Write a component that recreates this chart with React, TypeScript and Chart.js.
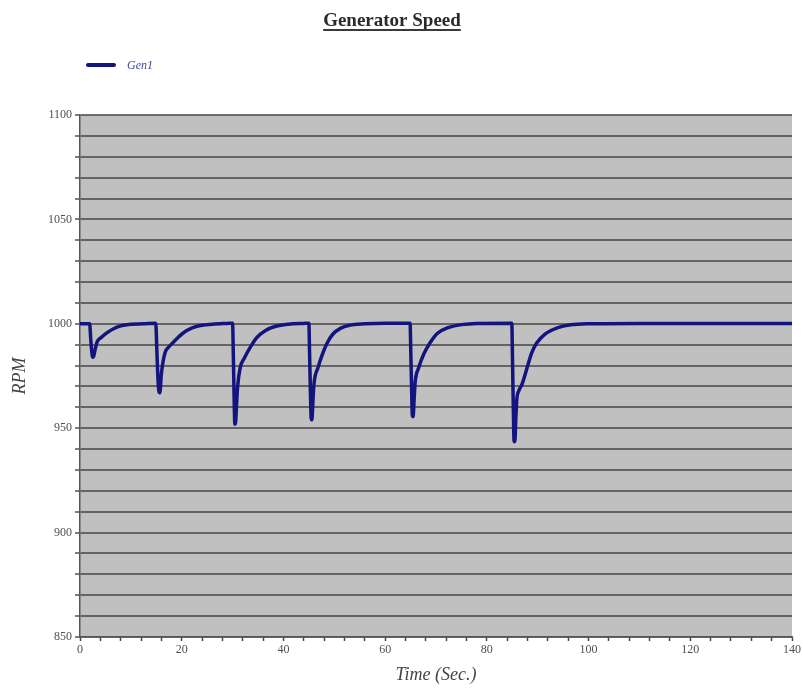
import React, { useEffect, useRef } from "react";
import { Chart, registerables } from "chart.js";

Chart.register(...registerables);

const TITLE = "Generator Speed";
const SERIES_NAME = "Gen1";
const X_TITLE = "Time (Sec.)";
const Y_TITLE = "RPM";

// Time (s) and generator speed (RPM)
const timeSec = [
  0, 1.9,
  2.1, 2.3, 2.5, 2.7, 3.0, 3.4, 4.2, 5.2, 6.5, 8.0, 10.0, 12.5,
  14.9, 15.1, 15.3, 15.5, 15.7, 16.0, 16.7, 17.5, 18.5, 19.5, 21.0, 23.0, 26.0, 29.0,
  30.0, 30.15, 30.3, 30.45, 30.6, 30.8, 31.0, 31.5, 32.3, 33.3, 34.8, 36.5, 38.5, 41.0, 44.0,
  45.0, 45.15, 45.3, 45.45, 45.6, 45.8, 46.0, 46.8, 47.6, 48.6, 49.7, 51.2, 53.0, 56.0, 60.0,
  64.9, 65.05, 65.2, 65.35, 65.5, 65.7, 65.9, 66.6, 67.6, 68.8, 70.3, 72.2, 75.0, 78.0,
  84.9, 85.05, 85.2, 85.35, 85.5, 85.7, 85.9, 86.3, 86.9, 87.8, 88.8, 89.8, 91.5, 93.8, 96.5, 100.0,
  110.0, 125.0, 140.0,
];

const speedRpm = [
  1000, 1000,
  993, 987, 984, 984.5, 988, 991.5, 993.5, 995.5, 997.5, 999, 999.8, 1000,
  1000.3, 988, 975, 968, 967, 976, 986, 989, 991.5, 994, 996.8, 998.8, 999.8, 1000.2,
  1000.3, 985, 965, 952, 953, 962, 970, 979, 983.5, 988, 993.5, 996.8, 998.8, 999.8, 1000.2,
  1000.3, 985, 968, 955, 954, 963, 971, 979, 985, 990.8, 995, 997.8, 999.3, 1000, 1000.3,
  1000.3, 986, 969, 956, 955.5, 964, 972, 979, 985.5, 990.8, 995.5, 998, 999.6, 1000.2,
  1000.3, 982, 960, 944, 943.5, 955, 964, 968, 971, 978, 986, 990.8, 995.2, 998, 999.5, 1000,
  1000.2, 1000.2, 1000.2,
];

const yMin = 850;
const yMax = 1100;
const yGridStep = 10;
const yLabelStep = 50;
const xMin = 0;
const xMax = 140;
const xTickStep = 4;
const xLabelStep = 20;

const LINE_COLOR = "#14147f";
const SERIF = "'Liberation Serif', 'Times New Roman', serif";

const decorPlugin = {
  id: "decor",
  beforeDraw(chart: any) {
    const { ctx, chartArea } = chart;
    ctx.save();
    ctx.fillStyle = "#ffffff";
    ctx.fillRect(0, 0, chart.width, chart.height);
    ctx.fillStyle = "#c0c0c0";
    ctx.fillRect(
      chartArea.left,
      chartArea.top,
      chartArea.right - chartArea.left,
      chartArea.bottom - chartArea.top
    );
    ctx.restore();
  },
  afterDraw(chart: any) {
    const { ctx } = chart;
    ctx.save();
    // Title with underline
    ctx.font = `bold 19px ${SERIF}`;
    ctx.fillStyle = "#2a2a2a";
    ctx.textAlign = "center";
    ctx.textBaseline = "alphabetic";
    const tx = 392;
    const ty = 26;
    ctx.fillText(TITLE, tx, ty);
    const w = ctx.measureText(TITLE).width;
    ctx.fillStyle = "#3a3a3a";
    ctx.fillRect(tx - w / 2, ty + 3, w, 2);

    // Legend
    ctx.strokeStyle = LINE_COLOR;
    ctx.lineWidth = 4;
    ctx.lineCap = "round";
    ctx.beginPath();
    ctx.moveTo(88, 65);
    ctx.lineTo(114, 65);
    ctx.stroke();
    ctx.font = `italic 12px ${SERIF}`;
    ctx.fillStyle = "#4848a8";
    ctx.textAlign = "left";
    ctx.textBaseline = "middle";
    ctx.fillText(SERIES_NAME, 127, 66);
    ctx.restore();
  },
};

export default function App() {
  const canvasRef = useRef<HTMLCanvasElement | null>(null);

  useEffect(() => {
    document.body.style.margin = "0";
    const canvas = canvasRef.current;
    if (!canvas) return;
    const data = timeSec.map((t, i) => ({ x: t, y: speedRpm[i] }));
    const chart = new Chart(canvas, {
      type: "line",
      data: {
        datasets: [
          {
            label: SERIES_NAME,
            data,
            borderColor: LINE_COLOR,
            backgroundColor: LINE_COLOR,
            borderWidth: 3.5,
            pointRadius: 0,
            cubicInterpolationMode: "monotone",
            fill: false,
          },
        ],
      },
      options: {
        responsive: false,
        animation: false,
        layout: { padding: { left: 0, right: 11, top: 115, bottom: 0 } },
        plugins: {
          legend: { display: false },
          title: { display: false },
          tooltip: { enabled: false },
        },
        scales: {
          x: {
            type: "linear",
            min: xMin,
            max: xMax,
            afterFit: (s: any) => {
              s.height = 52;
            },
            ticks: {
              stepSize: xTickStep,
              autoSkip: false,
              maxRotation: 0,
              padding: 2,
              color: "#505050",
              font: { family: SERIF, size: 12 },
              callback: (v: any) => (Number(v) % xLabelStep === 0 ? String(v) : ""),
            },
            grid: {
              drawOnChartArea: false,
              tickLength: 4,
              color: "#444444",
              tickColor: "#444444",
              tickWidth: 1.5,
            },
            border: { display: true, color: "#555555", width: 1.5 },
            title: {
              display: true,
              text: X_TITLE,
              color: "#444444",
              font: { family: SERIF, size: 18, style: "italic", lineHeight: 1.2 },
              padding: { top: 0, bottom: 3 },
            },
          },
          y: {
            type: "linear",
            min: yMin,
            max: yMax,
            afterFit: (s: any) => {
              s.width = 80;
            },
            ticks: {
              stepSize: yGridStep,
              autoSkip: false,
              padding: 3,
              color: "#505050",
              font: { family: SERIF, size: 12 },
              callback: (v: any) => (Number(v) % yLabelStep === 0 ? String(v) : ""),
            },
            grid: {
              color: "rgba(70,70,70,0.75)",
              lineWidth: 2,
              tickLength: 5,
              tickColor: "#555555",
              tickWidth: 1.5,
            },
            border: { display: true, color: "#555555", width: 1.5 },
            title: {
              display: true,
              text: Y_TITLE,
              color: "#444444",
              font: { family: SERIF, size: 18, style: "italic", lineHeight: 1.2 },
              padding: { top: 9, bottom: 0 },
            },
          },
        },
      },
      plugins: [decorPlugin],
    });
    return () => chart.destroy();
  }, []);

  return (
    <div style={{ position: "fixed", left: 0, top: 0, width: 803, height: 689 }}>
      <canvas ref={canvasRef} width={803} height={689} style={{ width: 803, height: 689 }} />
    </div>
  );
}
